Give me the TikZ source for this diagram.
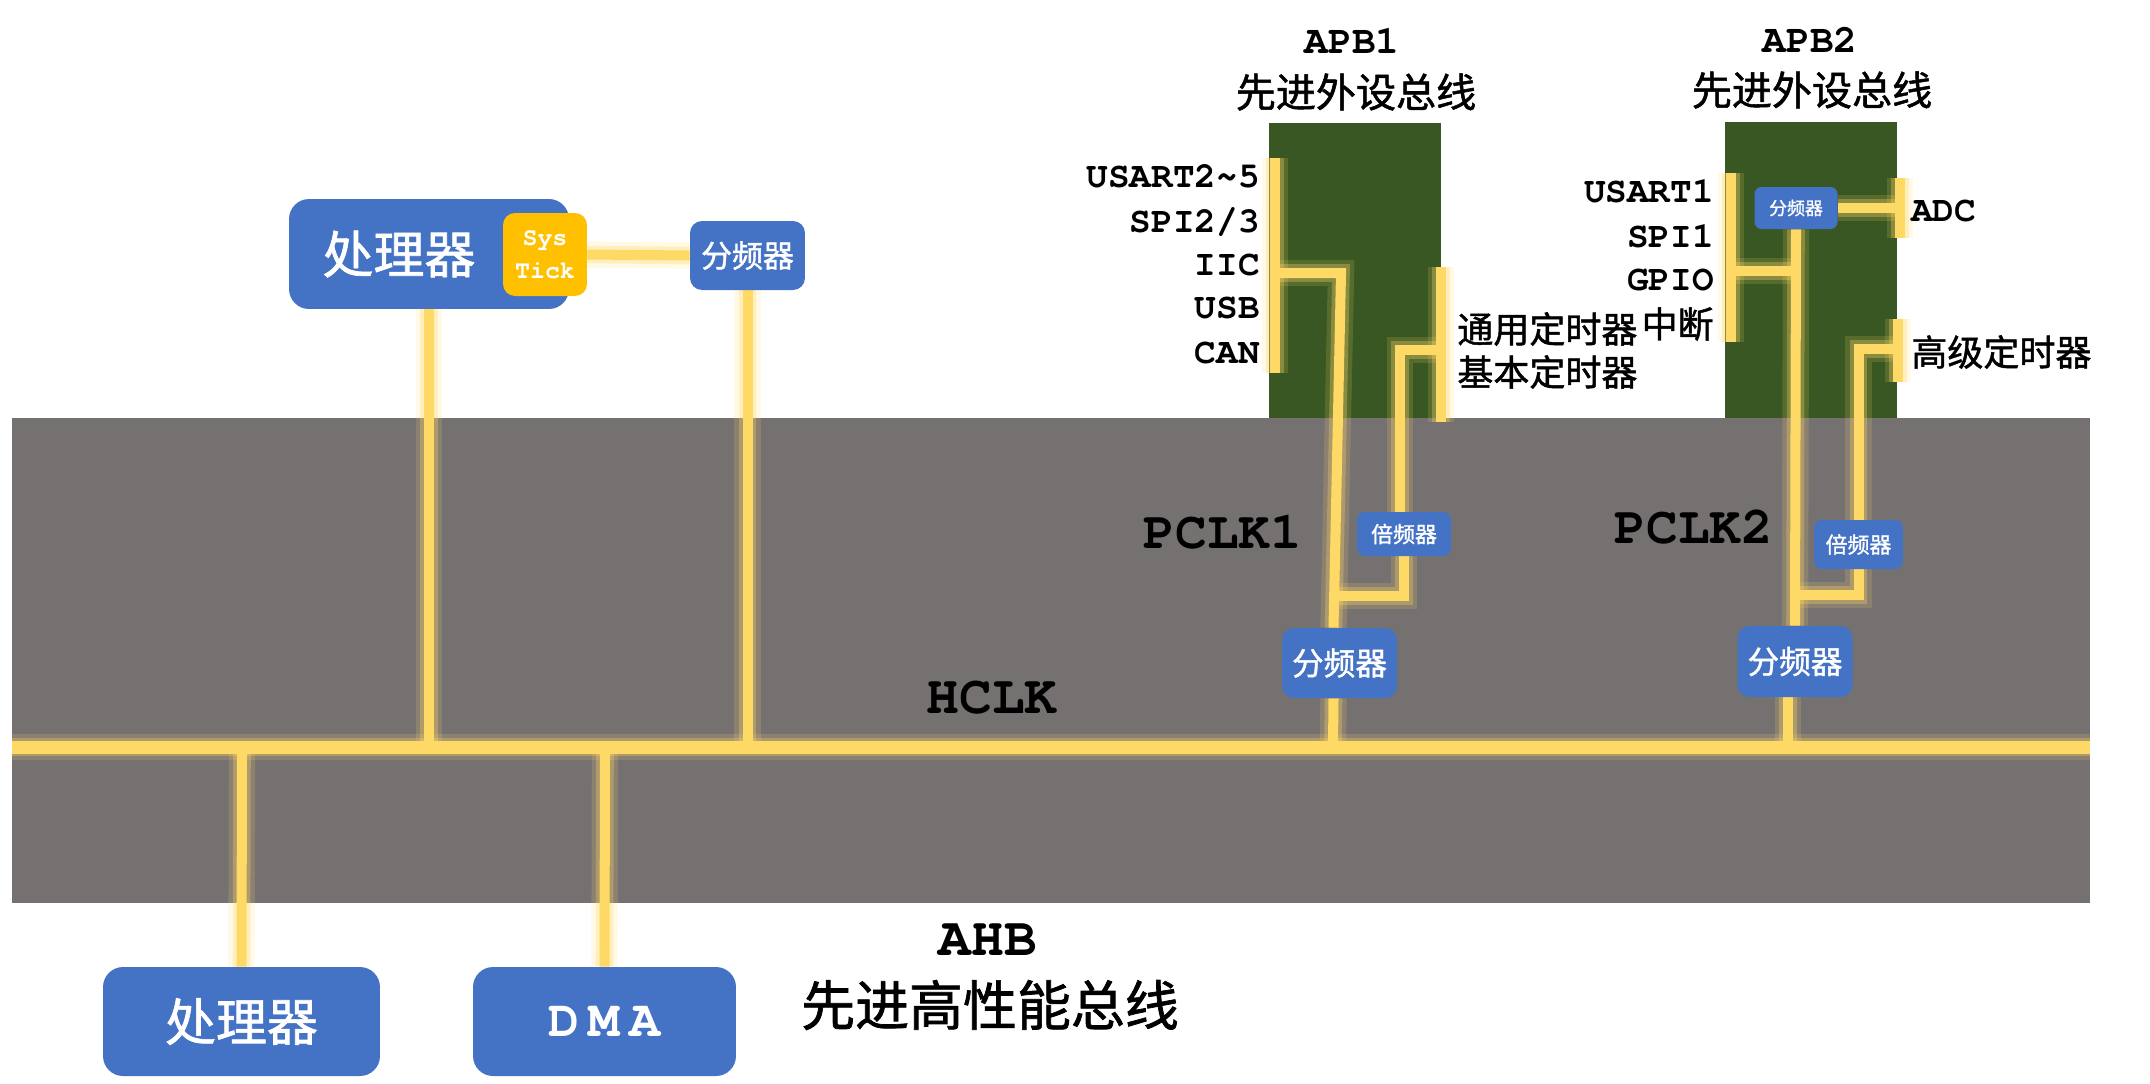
\documentclass[tikz,border=0pt]{standalone}
\usepackage{fontspec}
\newfontfamily\cjk{Noto Sans CJK SC}[RawFeature={embolden=1.3}]
\IfFontExistsTF{TeX Gyre Cursor}{\newfontfamily\monof{TeX Gyre Cursor}}{\newfontfamily\monof{Liberation Mono}}
\usetikzlibrary{calc}
\pgfdeclarelayer{bglayer}
\pgfdeclarelayer{wirelayer}
\pgfsetlayers{bglayer,wirelayer,main}
\definecolor{wireY}{HTML}{FFD966}
\definecolor{busgray}{HTML}{767171}
\definecolor{apbgreen}{HTML}{385723}
\definecolor{boxblue}{HTML}{4472C4}
\definecolor{tickorange}{HTML}{FFC000}
\newcommand\cjkf[1]{\cjk\fontsize{#1}{#1}\selectfont}
\newcommand\monob[1]{\monof\bfseries\fontsize{#1}{#1}\selectfont}
\begin{document}
\begin{tikzpicture}[x=0.02cm,y=-0.02cm,
  wire/.style={draw=wireY, line width=5.7pt, line cap=butt, line join=miter,
    preaction={draw=wireY, draw opacity=0.16, line width=15pt},
    preaction={draw=wireY, draw opacity=0.3, line width=10pt}},
  hwire/.style={wire, line width=7.4pt},
  bluebox/.style={fill=boxblue, text=white, inner sep=0pt},
  txt/.style={inner sep=0pt, text=black},
  lbl/.style={txt, font=\monob{20.5pt}, anchor=base east},
  cjklbl/.style={txt, font=\cjkf{20.5pt}}]
\useasboundingbox (0,0) rectangle (2150,1083);

% backgrounds
\begin{pgfonlayer}{bglayer}
\fill[busgray] (12,418) rectangle (2090,903);
\fill[apbgreen] (1269,123) rectangle (1441,418);
\fill[apbgreen] (1725,122) rectangle (1897,418);
\end{pgfonlayer}

% boxes
\node[bluebox, minimum width=5.6cm, minimum height=2.2cm, rounded corners=0.4cm] (cpu1) at (429,254) {};
\node[txt, text=white, font=\cjkf{29pt}] (cpu1t) at (399,254) {处理器};
\node[fill=tickorange, text=white, inner sep=0pt, minimum width=1.68cm, minimum height=1.66cm,
  rounded corners=0.24cm, align=center,
  font=\monof\bfseries\fontsize{14.2pt}{18.8pt}\selectfont] (systick) at (545,254.5) {Sys\\Tick};
\node[bluebox, minimum width=2.3cm, minimum height=1.38cm, rounded corners=0.24cm, font=\cjkf{17.6pt}] (div0) at (747.5,255.5) {分频器};

\node[bluebox, minimum width=5.54cm, minimum height=2.18cm, rounded corners=0.4cm, font=\cjkf{29pt}] (cpu2) at (241.5,1021.5) {处理器};
\node[bluebox, minimum width=5.26cm, minimum height=2.18cm, rounded corners=0.4cm, font=\monob{29.5pt}] (dma) at (604.5,1021.5) {D\kern0.19em M\kern0.19em A};

\node[bluebox, minimum width=2.3cm, minimum height=1.4cm, rounded corners=0.24cm, font=\cjkf{18pt}] (div1) at (1339.5,663) {分频器};
\node[bluebox, minimum width=1.88cm, minimum height=0.88cm, rounded corners=0.16cm, font=\cjkf{12.5pt}] (mul1) at (1404,534) {倍频器};
\node[bluebox, minimum width=2.3cm, minimum height=1.42cm, rounded corners=0.24cm, font=\cjkf{18pt}] (div2) at (1795,661.5) {分频器};
\node[bluebox, minimum width=1.78cm, minimum height=0.98cm, rounded corners=0.16cm, font=\cjkf{12.5pt}] (mul2) at (1858.5,544.5) {倍频器};
\node[bluebox, minimum width=1.66cm, minimum height=0.84cm, rounded corners=0.14cm, font=\cjkf{10.2pt}] (div3) at (1796,208) {分频器};

% texts
\node[txt, font=\monob{22.5pt}, anchor=base] (apb1) at (1352,53) {APB1};
\node[txt, font=\cjkf{22.8pt}] (apb1c) at (1356,92) {先进外设总线};
\node[txt, font=\monob{22.5pt}, anchor=base] (apb2) at (1810,52) {APB2};
\node[txt, font=\cjkf{22.8pt}] (apb2c) at (1812,90) {先进外设总线};
\node[txt, font=\monob{31pt}, anchor=base] (hclk) at (992,713) {HCLK};
\node[txt, font=\monob{31pt}, anchor=base] (ahb) at (988,955) {AHB};
\node[txt, font=\cjkf{30.7pt}] (ahbc) at (990,1005) {先进高性能总线};
\node[txt, font=\monob{30pt}, anchor=base] (pclk1) at (1223,548) {PCLK1};
\node[txt, font=\monob{30pt}, anchor=base] (pclk2) at (1694,543) {PCLK2};

\node[lbl] (l1) at (1260,187) {USART2\textasciitilde 5};
\node[lbl] (l2) at (1260,232) {SPI2/3};
\node[lbl] (l3) at (1260,275) {IIC};
\node[lbl] (l4) at (1260,318) {USB};
\node[lbl] (l5) at (1260,363) {CAN};
\node[cjklbl, anchor=west] (t1) at (1457,329) {通用定时器};
\node[cjklbl, anchor=west] (t2) at (1457,372) {基本定时器};

\node[lbl] (m1) at (1714,202) {USART1};
\node[lbl] (m2) at (1714,247) {SPI1};
\node[lbl] (m3) at (1714,290) {GPIO};
\node[cjklbl, anchor=east] (m4) at (1714,324) {中断};
\node[txt, font=\monob{20.5pt}, anchor=base west] (adc) at (1911,221) {ADC};
\node[cjklbl, anchor=west] (t3) at (1911,352) {高级定时器};

% wires
\begin{pgfonlayer}{wirelayer}
\coordinate (hL) at (12,747);
\coordinate (hR) at (2090,747);
\draw[hwire] (hL) -- (hR);
\draw[wire] (systick.east) -- (div0.west);
\draw[wire] (cpu1.south) -- (429,747);
\draw[wire] (div0.south) -- (747.5,747);
\draw[wire] (242,752) -- (cpu2.north);
\draw[wire] (605,752) -- (dma.north);
% APB1
\draw[wire] (1275,158) -- (1275,373);
\draw[wire] ($(div1.north)+(-6,0)$) -- (1341,273) -- (1275,273);
\draw[wire] (1334,596) -- (1404,596) -- (mul1.south);
\draw[wire] ($(mul1.north)+(-4,0)$) -- (1400,350) -- (1441,350);
\draw[wire] (1441,267) -- (1441,422);
\draw[wire] ($(div1.south)+(-6,0)$) -- (1333,747);
% APB2
\draw[wire] (1731,173) -- (1731,342);
\draw[wire] (div3.south) -- (div2.north);
\draw[wire] (1731,271) -- (1796,271);
\draw[wire] (div3.east) -- (1900,208);
\draw[wire] (1900,178) -- (1900,238);
\draw[wire] (1795,595) -- (1858.5,595) -- (mul2.south);
\draw[wire] (mul2.north) -- (1858.5,349) -- (1898,349);
\draw[wire] (1898,319) -- (1898,382);
\draw[wire] ($(div2.south)+(-7,0)$) -- (1788,747);
\end{pgfonlayer}
\end{tikzpicture}
\end{document}
